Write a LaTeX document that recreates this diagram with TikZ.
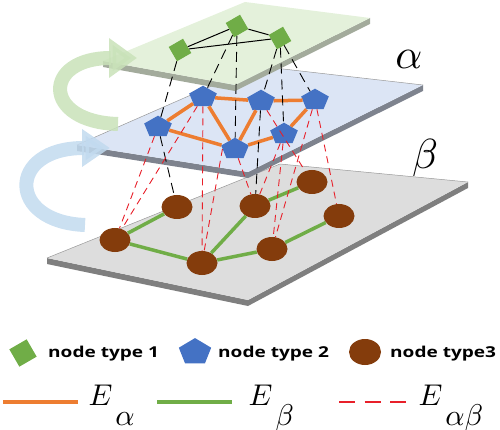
\documentclass[tikz,border=0pt]{standalone}
\usepackage{fontspec}
\newfontfamily\legfont[FakeStretch=1.27]{Open Sans}
\usetikzlibrary{shapes.geometric,arrows.meta}
\definecolor{ngreen}{HTML}{70AD47}
\definecolor{nblue}{HTML}{4472C4}
\definecolor{nbrown}{HTML}{843C0C}
\definecolor{eorange}{HTML}{ED7D31}
\definecolor{egreen}{HTML}{70AD47}
\definecolor{ered}{HTML}{E8202A}
\definecolor{pgreen}{HTML}{E4F1DB}
\definecolor{pgreenedge}{HTML}{A3AB9C}
\definecolor{pblue}{HTML}{DCE5F5}
\definecolor{pblueedge}{HTML}{7E838E}
\definecolor{pgray}{HTML}{DDDDDD}
\definecolor{pgrayedge}{HTML}{7F7F7F}
\definecolor{agreen}{HTML}{C9E2B9}
\definecolor{ablue}{HTML}{C2DAEF}
\tikzset{
  sq/.style={rectangle, fill=ngreen, minimum size=16.5pt, inner sep=0pt, rotate=30},
  pent/.style={regular polygon, regular polygon sides=5, fill=nblue, minimum size=29pt, inner sep=0pt, yscale=0.78},
  circ/.style={ellipse, fill=nbrown, minimum width=31pt, minimum height=24pt, inner sep=0pt},
  oedge/.style={eorange, line width=3.5pt},
  gedge/.style={egreen, line width=3.5pt},
  bdash/.style={black, line width=0.9pt, dash pattern=on 10pt off 6pt},
  bline/.style={black, line width=1pt},
  rdash/.style={ered, line width=0.9pt, dash pattern=on 7pt off 5pt},
  outline/.style={gray!80, line width=0.5pt},
  legtext/.style={anchor=base west, inner sep=0pt, font=\legfont\bfseries\fontsize{15}{17}\selectfont},
  elab/.style={anchor=base west, inner sep=0pt, scale=3},
  greek/.style={inner sep=0pt, scale=4.2},
  bigarrow/.style={line width=14pt, opacity=0.85}
}
\newcommand\Elab[1]{$E$\kern1pt\raisebox{-6.7pt}{$#1$}}
\begin{document}
\begin{tikzpicture}[x=1pt,y=1pt]
\useasboundingbox (0,0) rectangle (500,-430);
% gray plane
\fill[pgrayedge] (47,-258) -- (248,-300) -- (468,-182) -- (468,-188) -- (248,-306) -- (47,-264) -- cycle;
\fill[pgray] (47,-258) -- (280,-164) -- (468,-182) -- (248,-300) -- cycle;
\draw[outline] (47,-258) -- (280,-164) -- (468,-182);
% blue plane
\fill[pblueedge] (77,-145) -- (248,-172) -- (423,-85) -- (423,-91) -- (248,-178) -- (77,-151) -- cycle;
\fill[pblue] (77,-145) -- (257,-66) -- (423,-85) -- (248,-172) -- cycle;
\draw[outline] (77,-145) -- (257,-66) -- (423,-85);
% green plane
\fill[pgreenedge] (103,-61) -- (235,-85) -- (370,-18) -- (370,-24) -- (235,-91) -- (103,-67) -- cycle;
\fill[pgreen] (103,-61) -- (245,-2) -- (370,-18) -- (235,-85) -- cycle;
% curved arrows
\coordinate (ga0) at (118,-124);
\coordinate (ga1) at (137,-58);
\coordinate (ba0) at (85,-225);
\coordinate (ba1) at (110,-148);
\draw[bigarrow, agreen, -{Triangle[length=28pt,width=38pt]}] (ga0) .. controls (42,-122) and (42,-58) .. (ga1);
\draw[bigarrow, ablue, -{Triangle[length=28pt,width=36pt]}] (ba0) .. controls (7,-222) and (7,-148) .. (ba1);
% layer labels
\node[greek] (alab) at (409,-59) {$\alpha$};
\node[greek] (blab) at (425,-158) {$\beta$};
% nodes
\node[sq] (S1) at (180,-50) {};
\node[sq] (S2) at (237,-26) {};
\node[sq] (S3) at (280,-38) {};
\node[pent] (P1) at (158,-127) {};
\node[pent] (P2) at (203,-97) {};
\node[pent] (P3) at (261,-101) {};
\node[pent] (P4) at (315,-100) {};
\node[pent] (P5) at (235,-149) {};
\node[pent] (P6) at (284,-134) {};
\node[circ] (C1) at (115,-240) {};
\node[circ] (C2) at (177,-207) {};
\node[circ] (C3) at (202,-263) {};
\node[circ] (C4) at (255,-206) {};
\node[circ] (C5) at (272,-249) {};
\node[circ] (C6) at (312,-182) {};
\node[circ] (C7) at (339,-216) {};
% intra-layer edges
\draw[bline] (S1) -- (S2);
\draw[bline] (S1) -- (S3);
\draw[bline] (S2) -- (S3);
\draw[oedge] (P1) -- (P2);
\draw[oedge] (P1) -- (P5);
\draw[oedge] (P2) -- (P5);
\draw[oedge] (P2) -- (P3);
\draw[oedge] (P3) -- (P4);
\draw[oedge] (P3) -- (P5);
\draw[oedge] (P5) -- (P6);
\draw[oedge] (P6) -- (P4);
\draw[gedge] (C1) -- (C2);
\draw[gedge] (C1) -- (C3);
\draw[gedge] (C3) -- (C4);
\draw[gedge] (C3) -- (C5);
\draw[gedge] (C4) -- (C6);
\draw[gedge] (C5) -- (C7);
% inter-layer black dashed
\draw[bdash] (S1) -- (P1);
\draw[bdash] (S2) -- (P2);
\draw[bdash] (S2) -- (P5);
\draw[bdash] (S3) -- (P3);
\draw[bdash] (S3) -- (P6);
\draw[bdash] (S3) -- (P4);
\draw[bdash] (P1) -- (C2);
\draw[bdash] (P3) -- (C4);
% inter-layer red dashed
\draw[rdash] (P1) -- (C1);
\draw[rdash] (P2) -- (C1);
\draw[rdash] (P2) -- (C3);
\draw[rdash] (P5.west) -- (C3);
\draw[rdash] (P5) -- (C4);
\draw[rdash] (P6) -- (C4);
\draw[rdash] (P6) -- (C5);
\draw[rdash] (P4) -- (C5);
\draw[rdash] (P3) -- (C6);
\draw[rdash] (P4) -- (C7);
% legend row 1
\node[sq, minimum size=20pt] (LS) at (23,-353) {};
\node[legtext] (LT1) at (48,-357) {node type 1};
\node[pent, minimum size=34pt, yscale=1.05] (LP) at (195,-352) {};
\node[legtext] (LT2) at (218,-357) {node type 2};
\node[circ, minimum width=32pt, minimum height=26pt] (LC) at (365,-352) {};
\node[legtext] (LT3) at (390,-357) {node type3};
% legend row 2
\coordinate (lo0) at (3,-402);
\coordinate (lo1) at (78,-402);
\coordinate (lg0) at (157,-402);
\coordinate (lg1) at (232,-402);
\coordinate (lr0) at (339,-402);
\coordinate (lr1) at (414,-402);
\draw[eorange, line width=3.5pt] (lo0) -- (lo1);
\draw[egreen, line width=3.5pt] (lg0) -- (lg1);
\draw[ered, line width=1.2pt, dash pattern=on 16pt off 9.5pt] (lr0) -- (lr1);
\node[elab] (LE1) at (88,-405) {\Elab{\alpha}};
\node[elab] (LE2) at (248,-405) {\Elab{\beta}};
\node[elab] (LE3) at (418,-405) {\Elab{\alpha\beta}};
\end{tikzpicture}
\end{document}
